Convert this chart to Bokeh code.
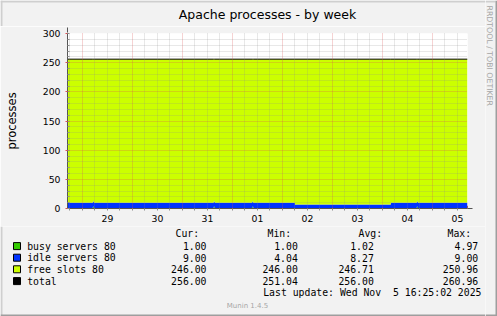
import numpy as np
from bokeh.plotting import figure
from bokeh.layouts import column, row
from bokeh.models import Range1d, FixedTicker, Arrow, NormalHead, ColumnDataSource
from bokeh.core.properties import value
from bokeh.embed import file_html
from bokeh.resources import INLINE

# ---------------- data ----------------
TITLE = "Apache processes - by week"
Y_LABEL = "processes"
RANGE_START = "2025-10-28T16:50"
RANGE_END = "2025-11-05T16:50"

sample_time = ["2025-10-28T16:50", "2025-10-29T05:00", "2025-10-29T05:30",
               "2025-10-31T15:00", "2025-10-31T15:30", "2025-11-01T09:30",
               "2025-11-01T10:00", "2025-11-02T06:00", "2025-11-04T04:00",
               "2025-11-04T16:30", "2025-11-04T17:00"]
busy = [1, 3, 1, 3, 1, 3, 1, 1, 1, 3, 1]
idle = [9, 9, 9, 9, 9, 9, 9, 6, 9, 9, 9]
free = [246, 244, 246, 244, 246, 244, 246, 249, 246, 244, 246]
total = [256, 256, 256, 256, 256, 256, 256, 256, 256, 256, 256]

day_dates = ["2025-10-29", "2025-10-30", "2025-10-31", "2025-11-01",
             "2025-11-02", "2025-11-03", "2025-11-04", "2025-11-05"]
day_labels = ["29", "30", "31", "01", "02", "03", "04", "05"]
y_ticks = [0, 50, 100, 150, 200, 250, 300]

legend_names = ["busy servers 80", "idle servers 80", "free slots 80", "total"]
legend_colors = ["#33CC00", "#0033FF", "#CCFF00", "#000000"]
stat_headers = ["Cur:", "Min:", "Avg:", "Max:"]
cur_vals = ["1.00", "9.00", "246.00", "256.00"]
min_vals = ["1.00", "4.04", "246.00", "251.04"]
avg_vals = ["1.02", "8.27", "246.71", "256.00"]
max_vals = ["4.97", "9.00", "250.96", "260.96"]
last_update = "Last update: Wed Nov \u00a05 16:25:02 2025"
watermark = "RRDTOOL / TOBI OETIKER"
footer = "Munin 1.4.5"

# ---------------- geometry (page pixels) ----------------
W, H = 497, 316
SW = 12                 # right strip width (watermark)
LW = W - SW             # width of the left column
TH = 26                 # title strip height
CH = 200                # chart figure height (page y 26..226)
LH = H - TH - CH        # legend figure height (page y 226..316)
FL, FR, FT, FB = 67, 467, 33, 208
BG = "#F2F2F2"
SHADE_A, SHADE_B = "#CFCFCF", "#9E9E9E"
AXIS = "#555555"
ARROW = "#801F1F"

def ms(s):
    return float(np.datetime64(s, "ms").astype(np.int64))

DAY = 86400000.0
t0, t1 = ms(RANGE_START), ms(RANGE_END)
px_ms = (t1 - t0) / (FR - FL)
px_val = 300.0 / (FB - FT)

def X(cx):
    return t0 + (cx - FL) * px_ms

def Y(cy):
    return (FB - cy) * px_val

t = np.array([ms(s) for s in sample_time] + [t1])
xs = np.repeat(t, 2)[1:-1]

def step_y(v):
    return np.repeat(np.asarray(v, float), 2)

b = np.array(busy, float)
i = np.array(idle, float)
f = np.array(free, float)
lv1, lv2, lv3 = b, b + i, b + i + f

def no_align(fig):
    try:
        fig.frame_align = False
    except Exception:
        pass

def panel(width, height, x0, x1, y_top, y_bot):
    q = figure(width=width, height=height, output_backend="svg",
               toolbar_location=None, x_range=Range1d(x0, x1),
               y_range=Range1d(y_bot, y_top), min_border=0,
               x_axis_location=None, y_axis_location=None)
    no_align(q)
    q.grid.visible = False
    q.outline_line_color = None
    q.background_fill_color = BG
    q.border_fill_color = BG
    return q

# ---------------- title strip ----------------
ts = panel(LW, TH, 0, LW, 0, TH)
ts.quad(left=[0], right=[LW], top=[0], bottom=[2], fill_color=SHADE_A, line_color=None)
ts.quad(left=[0], right=[2], top=[0], bottom=[TH], fill_color=SHADE_A, line_color=None)
ts.text(x=[(FL + FR) / 2], y=[14], text=[TITLE], text_align="center",
        text_baseline="middle", text_font=value("DejaVu Sans"),
        text_font_size=value("12.5px"), text_color="#000000")

# ---------------- chart ----------------
p = figure(width=LW, height=CH, output_backend="svg", toolbar_location=None,
           x_range=Range1d(t0, t1), y_range=Range1d(0, 300),
           min_border_left=FL, min_border_right=LW - FR,
           min_border_top=FT - TH, min_border_bottom=TH + CH - FB)
no_align(p)
p.border_fill_color = BG
p.background_fill_color = "#FFFFFF"
p.outline_line_color = None

zero = np.zeros_like(xs)
p.varea(x=xs, y1=zero, y2=step_y(lv1), fill_color=legend_colors[0])
p.varea(x=xs, y1=step_y(lv1), y2=step_y(lv2), fill_color=legend_colors[1])
p.varea(x=xs, y1=step_y(lv2), y2=step_y(lv3), fill_color=legend_colors[2])
p.line(x=xs, y=step_y(total), line_color=legend_colors[3], line_width=1)

midnights = [ms(d + "T00:00") for d in day_dates]
noons = [m + DAY / 2 for m in midnights]
six_h = np.arange(ms("2025-10-28T18:00"), t1, DAY / 4)
six_h_minor = [float(v) for v in six_h if v % DAY != 0]

p.xaxis.ticker = FixedTicker(ticks=noons, minor_ticks=[float(v) for v in six_h])
p.xaxis.major_label_overrides = {n: lab for n, lab in zip(noons, day_labels)}
p.xaxis.major_tick_line_color = None
p.xaxis.major_tick_in = 0
p.xaxis.major_tick_out = 0
p.xaxis.minor_tick_in = 0
p.xaxis.minor_tick_out = 2
p.xaxis.minor_tick_line_color = "#8F8F8F"
p.xaxis.major_label_standoff = 4

p.yaxis.ticker = FixedTicker(ticks=y_ticks, minor_ticks=list(range(0, 301, 10)))
p.yaxis.major_tick_in = 0
p.yaxis.major_tick_out = 2
p.yaxis.major_tick_line_color = "#DE4F4F"
p.yaxis.minor_tick_in = 2
p.yaxis.minor_tick_out = 0
p.yaxis.minor_tick_line_color = "#8F8F8F"
p.yaxis.major_label_standoff = 5
p.yaxis.axis_label = Y_LABEL
p.yaxis.axis_label_text_font = "DejaVu Sans"
p.yaxis.axis_label_text_font_size = "11.5px"
p.yaxis.axis_label_text_font_style = "normal"
p.yaxis.axis_label_text_color = "#000000"
p.yaxis.axis_label_standoff = 21

for ax in (p.xaxis, p.yaxis):
    ax.axis_line_color = AXIS
    ax.major_label_text_font = "DejaVu Sans"
    ax.major_label_text_font_size = "9.3px"
    ax.major_label_text_color = "#000000"

p.xgrid.ticker = FixedTicker(ticks=midnights, minor_ticks=six_h_minor)
p.ygrid.ticker = FixedTicker(ticks=y_ticks,
                             minor_ticks=[v for v in range(10, 300, 10) if v % 50])
for g in (p.xgrid, p.ygrid):
    g.level = "guide"
    g.grid_line_color = "#DE4F4F"
    g.grid_line_alpha = 0.5
    g.grid_line_dash = "1 1"
    g.minor_grid_line_color = "#8F8F8F"
    g.minor_grid_line_alpha = 0.4
    g.minor_grid_line_dash = "1 1"

p.add_layout(Arrow(end=NormalHead(size=5, fill_color=ARROW, line_color=ARROW),
                   x_start=t0, y_start=300, x_end=t0, y_end=300 + 6 * px_val,
                   line_color=AXIS, line_width=1))
p.add_layout(Arrow(end=NormalHead(size=5, fill_color=ARROW, line_color=ARROW),
                   x_start=t1, y_start=0, x_end=t1 + 5 * px_ms, y_end=0,
                   line_color=AXIS, line_width=1))
# light image shade on the left edge of the chart part
p.add_layout(Arrow(end=None, x_start=X(1), y_start=Y(TH), x_end=X(1), y_end=Y(TH + CH),
                   line_color=SHADE_A, line_width=2))

# ---------------- legend part ----------------
lg = panel(LW, LH, 0, LW, TH + CH, H)
row_y = [245.6, 257.2, 268.8, 280.6]
header_x = [175, 267, 358, 447]
col_right = [206, 297.3, 373.3, 477.7]

lg.quad(left=[13] * 4, right=[20] * 4, top=[y - 3.5 for y in row_y],
        bottom=[y + 3.5 for y in row_y], fill_color=legend_colors,
        line_color="#000000", line_width=1)

left_src = ColumnDataSource(dict(
    x=[26.7] * 4 + header_x + [262.7],
    y=row_y + [232.5] * 4 + [292.3],
    text=legend_names + stat_headers + [last_update]))
lg.text(x="x", y="y", text="text", source=left_src, text_align="left",
        text_baseline="middle", text_font=value("DejaVu Sans Mono"),
        text_font_size=value("9.8px"), text_color="#000000")

rx, ry, rt = [], [], []
for cx, vals in zip(col_right, (cur_vals, min_vals, avg_vals, max_vals)):
    rx += [cx] * 4
    ry += row_y
    rt += vals
lg.text(x=rx, y=ry, text=rt, text_align="right", text_baseline="middle",
        text_font=value("DejaVu Sans Mono"), text_font_size=value("9.8px"),
        text_color="#000000")

lg.text(x=[247], y=[305.5], text=[footer], text_align="center",
        text_baseline="middle", text_font=value("DejaVu Sans"),
        text_font_size=value("7px"), text_color="#A6A6A6")

lg.quad(left=[0], right=[2], top=[TH + CH], bottom=[H], fill_color=SHADE_A, line_color=None)
lg.quad(left=[0], right=[LW], top=[H - 2], bottom=[H], fill_color=SHADE_B, line_color=None)

# ---------------- right strip (watermark) ----------------
s = panel(SW, H, LW, W, 0, H)
s.quad(left=[LW], right=[W - 2], top=[0], bottom=[2], fill_color=SHADE_A, line_color=None)
s.quad(left=[LW], right=[W], top=[H - 2], bottom=[H], fill_color=SHADE_B, line_color=None)
s.quad(left=[W - 2], right=[W], top=[0], bottom=[H], fill_color=SHADE_B, line_color=None)
s.text(x=[488.5], y=[5], text=[watermark], angle=-np.pi / 2, text_align="left",
       text_baseline="middle", text_font=value("DejaVu Sans"),
       text_font_size=value("7.8px"), text_color="#A6A6A6")

layout = row(column(ts, p, lg), s)
open("out.html", "w").write(file_html(layout, INLINE))
